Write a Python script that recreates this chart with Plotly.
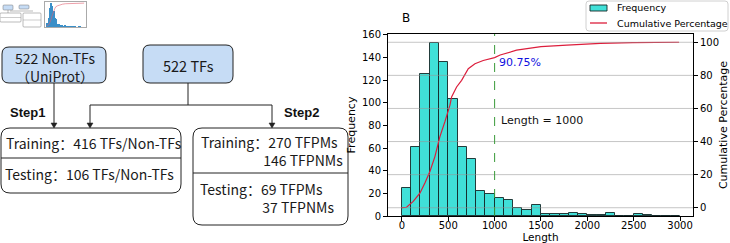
import plotly.graph_objects as go

W, H = 730, 243

# ---------------- data ----------------
bin_left = [0, 100, 200, 300, 400, 500, 600, 700, 800, 900,
            1000, 1100, 1200, 1300, 1400, 1500, 1600, 1700, 1800, 1900,
            2000, 2100, 2200, 2300, 2400, 2500, 2600, 2700, 2800, 2900]
counts = [25, 61, 125, 153, 136, 103, 61, 50, 22, 19,
          16, 14, 7, 5, 10, 2, 2, 2, 3, 2,
          1, 1, 3, 0, 0, 2, 1, 0, 0, 0]
bin_width = 100

cum_x = [0, 50, 122, 194, 248, 302, 356, 410, 464, 518, 536, 590, 644, 716,
         788, 877, 1000, 1060, 1237, 1500, 1780, 2140, 2490, 2990]
cum_pct = [0.1, 0.3, 3.8, 8.8, 14.9, 21.9, 30.9, 43.0, 52.0, 62.0, 67.0, 73.0, 77.0, 84.0,
           87.0, 89.0, 90.75, 92.3, 95.2, 97.4, 98.3, 99.3, 99.8, 100.0]

x_ticks = [0, 500, 1000, 1500, 2000, 2500, 3000]
y_ticks = [0, 20, 40, 60, 80, 100, 120, 140, 160]
y2_ticks = [0, 20, 40, 60, 80, 100]
cutoff_len = 1000
cutoff_label = "90.75%"
cutoff_text = "Length = 1000"
legend_names = ["Frequency", "Cumulative Percentage"]

top_boxes = ["522 Non-TFs", "（UniProt）", "522 TFs"]
step_labels = ["Step1", "Step2"]
step1_lines = ["Training：416 TFs/Non-TFs", "Testing：106 TFs/Non-TFs"]
step2_lines = ["Training：270 TFPMs", "146 TFPNMs", "Testing：69 TFPMs", "37 TFPNMs"]

BAR_COLOR = "rgb(64,224,216)"
BAR_EDGE = "rgba(20,40,40,0.9)"
LINE_COLOR = "#DC1E3C"

# ---------------- helpers (pixel -> paper) ----------------
def px(x):
    return x / W

def py(y):
    return 1 - y / H

def rrect(x0, y0, x1, y1, r):
    X0, X1, Y0, Y1 = px(x0), px(x1), py(y0), py(y1)
    rx, ry = r / W, r / H
    return (f"M {X0+rx},{Y0} L {X1-rx},{Y0} Q {X1},{Y0} {X1},{Y0-ry} "
            f"L {X1},{Y1+ry} Q {X1},{Y1} {X1-rx},{Y1} L {X0+rx},{Y1} "
            f"Q {X0},{Y1} {X0},{Y1+ry} L {X0},{Y0-ry} Q {X0},{Y0} {X0+rx},{Y0} Z")

shapes = []
annotations = []

def box(x0, y0, x1, y1, r, fill, lw=1.0, col="#222222"):
    shapes.append(dict(type="path", path=rrect(x0, y0, x1, y1, r), xref="paper", yref="paper",
                       fillcolor=fill, line=dict(color=col, width=lw), layer="above"))

def seg(x0, y0, x1, y1, col="#222222", lw=1.0):
    shapes.append(dict(type="line", x0=px(x0), y0=py(y0), x1=px(x1), y1=py(y1),
                       xref="paper", yref="paper", line=dict(color=col, width=lw), layer="above"))

def arrow_down(x, y0, y1):
    seg(x, y0, x, y1 - 4)
    path = (f"M {px(x-3)},{py(y1-5)} L {px(x+3)},{py(y1-5)} L {px(x)},{py(y1)} Z")
    shapes.append(dict(type="path", path=path, xref="paper", yref="paper",
                       fillcolor="#222222", line=dict(color="#222222", width=0.5), layer="above"))

LF = "Noto Sans CJK SC"

def text(x, y, s, size=14, anchor="left", bold=False, fam=LF, color="#1a1a1a"):
    annotations.append(dict(x=px(x), y=py(y), xref="paper", yref="paper", text=(f"<b>{s}</b>" if bold else s),
                            showarrow=False, xanchor=anchor, yanchor="middle", align="left",
                            font=dict(family=fam, size=size, color=color)))

INDENT = "\u3000" * 4 + "\u00a0\u00a0"

# ---------------- flowchart ----------------
blue = "#C6DCF5"
box(2, 47, 106, 83, 7, blue)
box(143, 45, 233, 83, 7, blue)
annotations.append(dict(x=px(55), y=py(67), xref="paper", yref="paper",
                        text=top_boxes[0] + "<br>" + top_boxes[1], showarrow=False, xanchor="center",
                        yanchor="middle", align="center", font=dict(family=LF, size=14, color="#1a1a1a")))
text(188, 65, top_boxes[2], 14.5, "center")

arrow_down(54, 83, 128)
seg(188, 83, 188, 105)
seg(90, 105, 272, 105)
arrow_down(90, 105, 128)
arrow_down(272, 105, 128)

text(8, 112, step_labels[0], 13, "left", True, "Liberation Sans", "#111111")
text(282, 112, step_labels[1], 13, "left", True, "Liberation Sans", "#111111")

box(1, 128, 181, 193, 9, "white")
seg(1, 158, 181, 158)
text(4, 143, step1_lines[0], 14)
text(3, 174, step1_lines[1], 14)

box(193, 128, 348, 225, 9, "white")
seg(193, 173, 348, 173)
text(199, 150.5, step2_lines[0] + "<br>" + INDENT + step2_lines[1], 14)
text(198, 197.5, step2_lines[2] + "<br>" + INDENT + step2_lines[3], 14)

# ---------------- thumbnail (tiny copy top-left) ----------------
box(3, 5, 13, 10, 1, blue, 0.5, "#777777")
box(19, 5, 29, 9, 1, blue, 0.5, "#777777")
box(0, 13, 21, 22, 1, "white", 0.5, "#777777")
box(23, 13, 41, 27, 1, "white", 0.5, "#777777")
seg(8, 10, 8, 13, "#777777", 0.5)
seg(10, 11, 33, 11, "#777777", 0.5)
seg(0.5, 17.5, 21, 17.5, "#999999", 0.5)
seg(23, 20, 41, 20, "#999999", 0.5)

# ---------------- chart ----------------
fig = go.Figure()
fig.add_trace(go.Bar(x=bin_left, y=counts, width=bin_width, offset=0, name=legend_names[0],
                     marker=dict(color=BAR_COLOR, line=dict(color=BAR_EDGE, width=1)),
                     xaxis="x", yaxis="y", showlegend=False))
fig.add_trace(go.Scatter(x=cum_x, y=cum_pct, mode="lines", name=legend_names[1],
                         line=dict(color=LINE_COLOR, width=1.2), xaxis="x", yaxis="y2", showlegend=False))

# thumbnail traces
fig.add_trace(go.Bar(x=bin_left, y=counts, width=bin_width, offset=0, showlegend=False,
                     marker=dict(color="#3a8fc8", line=dict(width=0)), xaxis="x3", yaxis="y3"))
fig.add_trace(go.Scatter(x=cum_x, y=cum_pct, mode="lines", showlegend=False,
                         line=dict(color="#e06070", width=0.6), xaxis="x3", yaxis="y4"))

# grid of right axis drawn above the bars
for v in y2_ticks:
    shapes.append(dict(type="line", xref="x domain", yref="y2", x0=0, x1=1, y0=v, y1=v,
                       line=dict(color="rgba(150,150,150,0.55)", width=1), layer="above"))
shapes.append(dict(type="line", xref="x", yref="y domain", x0=cutoff_len, x1=cutoff_len, y0=0, y1=1,
                   line=dict(color="#3a9a3a", width=1, dash="dash"), layer="above"))

annotations.append(dict(x=1025, y=88, xref="x", yref="y2", text=cutoff_label,
                        showarrow=False, xanchor="left", yanchor="middle",
                        font=dict(family="DejaVu Sans", size=11, color="#1010e0")))
annotations.append(dict(x=1050, y=53, xref="x", yref="y2", text=cutoff_text,
                        showarrow=False, xanchor="left", yanchor="middle",
                        font=dict(family="DejaVu Sans", size=11, color="#111111")))
annotations.append(dict(x=px(400), y=py(18), xref="paper", yref="paper", text="B", showarrow=False,
                        xanchor="left", yanchor="middle", font=dict(family="DejaVu Sans", size=12, color="black")))

# custom legend (matplotlib-like frame)
box(586, 1, 728, 31, 3, "rgba(255,255,255,0.9)", 1, "#d0d0d0")
shapes.append(dict(type="rect", x0=px(590), x1=px(607), y0=py(5), y1=py(11), xref="paper", yref="paper",
                   fillcolor=BAR_COLOR, line=dict(color=BAR_EDGE, width=1), layer="above"))
seg(590, 23, 607, 23, LINE_COLOR, 1.3)
annotations.append(dict(x=px(615), y=py(8), xref="paper", yref="paper", text=legend_names[0], showarrow=False,
                        xanchor="left", yanchor="middle", font=dict(family="DejaVu Sans", size=9.5, color="black")))
annotations.append(dict(x=px(615), y=py(23), xref="paper", yref="paper", text=legend_names[1], showarrow=False,
                        xanchor="left", yanchor="middle", font=dict(family="DejaVu Sans", size=9.5, color="black")))

axfont = dict(family="DejaVu Sans", size=10, color="black")
common = dict(ticks="outside", ticklen=4, tickcolor="black", showline=True, linecolor="black",
              linewidth=1, zeroline=False, tickfont=axfont, automargin=False)
thumb = dict(showticklabels=False, showgrid=False, zeroline=False, automargin=False, ticks="")

fig.update_layout(
    width=W, height=H, margin=dict(l=0, r=0, t=0, b=0, autoexpand=False),
    paper_bgcolor="white", plot_bgcolor="white", bargap=0, showlegend=False,
    font=dict(family="DejaVu Sans"),
    xaxis=dict(domain=[388 / W, 693 / W], range=[-150, 3140], tickvals=x_ticks, mirror=True, showgrid=False,
               ticklabelstandoff=-4,
               title=dict(text="Length", font=dict(size=10.5, color="black"), standoff=3), anchor="y", **common),
    yaxis=dict(domain=[27 / H, 209 / H], range=[0, 160.65], tickvals=y_ticks, showgrid=False,
               title=dict(text="Frequency", font=dict(size=11, color="black"), standoff=4), anchor="x", **common),
    yaxis2=dict(overlaying="y", side="right", range=[-5, 105], tickvals=y2_ticks, showgrid=False,
                title=dict(text="Cumulative Percentage", font=dict(size=11, color="black"), standoff=1),
                anchor="x", **common),
    xaxis3=dict(domain=[45 / W, 86 / W], range=[-150, 3140], showline=True, linecolor="#aaaaaa", linewidth=0.5,
                mirror=True, anchor="y3", **thumb),
    yaxis3=dict(domain=[1 - 27 / H, 1 - 2 / H], range=[0, 160.65], showline=True, linecolor="#aaaaaa",
                linewidth=0.5, mirror=True, anchor="x3", **thumb),
    yaxis4=dict(overlaying="y3", range=[-5, 105], anchor="x3", side="right", **thumb),
    shapes=shapes, annotations=annotations,
)

fig.write_html("out.html", config={"displayModeBar": False},
               post_script="document.body.style.margin='0';document.body.style.overflow='hidden';")
